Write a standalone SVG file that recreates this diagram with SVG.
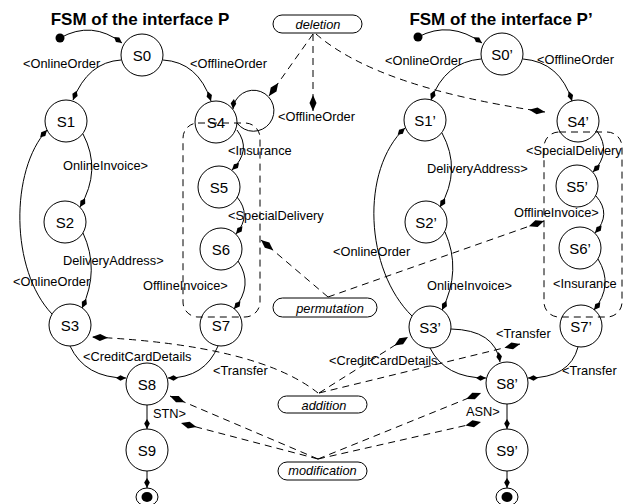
<svg xmlns="http://www.w3.org/2000/svg" width="624" height="504" viewBox="0 0 624 504">
<defs>
<marker id="ah" viewBox="0 -4 10 8" refX="10" refY="0" markerWidth="10" markerHeight="8" orient="auto" markerUnits="userSpaceOnUse"><path d="M0,0 L4.5,-2.8 L10,0 L4.5,2.8 z" fill="#000" stroke="none"/></marker>
<marker id="kite" viewBox="0 -4 16 8" refX="16" refY="0" markerWidth="16" markerHeight="8" orient="auto" markerUnits="userSpaceOnUse"><path d="M0,0 L8,-3.5 L16,0 L8,3.5 z" fill="#000" stroke="none"/></marker>
</defs>
<style>
text{font-family:"Liberation Sans",Arial,Helvetica,sans-serif;fill:#000}
.t{font-size:12.8px}
.s{font-size:15px;text-anchor:middle}
.title{font-size:17px;font-weight:bold;text-anchor:middle}
.bx{font-size:12.8px;font-style:italic;text-anchor:middle}
.st{fill:none;stroke:#000;stroke-width:1}
.tr{fill:none;stroke:#000;stroke-width:1;marker-end:url(#ah)}
.dl{fill:none;stroke:#000;stroke-width:1;stroke-dasharray:7 5;marker-end:url(#kite)}
.pill{fill:#fff;stroke:#000;stroke-width:1}
.grp{fill:none;stroke:#000;stroke-width:1;stroke-dasharray:7 5}
</style>
<rect width="624" height="504" fill="#fff"/>
<text class="title" x="140" y="25">FSM of the interface P</text>
<text class="title" x="501" y="25">FSM of the interface P’</text>

<g id="groups">
<rect class="grp" x="183" y="123" width="77" height="194" rx="15"/>
<rect class="grp" x="544" y="132" width="78" height="185" rx="15"/>
</g>

<g id="connectors">
<!-- left FSM -->
<path class="tr" d="M60,38 Q92,20 122,43"/>
<path class="tr" d="M121,60 Q88,62 73,100"/>
<text class="t" x="23" y="68">&lt;OnlineOrder</text>
<path class="tr" d="M163,60 Q198,62 211,101"/>
<text class="t" x="190" y="68">&lt;OfflineOrder</text>
<path class="tr" d="M237,123 A20.5,20.5 0 1 0 233,109"/>
<path class="tr" d="M237,130 Q252,150 232,170"/>
<text class="t" x="228" y="154.5">&lt;Insurance</text>
<path class="tr" d="M237,197 Q252,215 236,234"/>
<text class="t" x="228" y="219.5">&lt;SpecialDelivery</text>
<path class="tr" d="M238,261 Q254,285 234,309"/>
<text class="t" x="143" y="289.5">OfflineInvoice&gt;</text>
<path class="tr" d="M83,134 Q102,170 80,207"/>
<text class="t" x="63" y="169.5">OnlineInvoice&gt;</text>
<path class="tr" d="M83,233 Q100,270 82,308"/>
<text class="t" x="63" y="264.5">DeliveryAddress&gt;</text>
<path class="tr" d="M52,314 C10,270 10,170 47,130"/>
<text class="t" x="13" y="286">&lt;OnlineOrder</text>
<path class="tr" d="M70,346 Q85,378 126,378"/>
<text class="t" x="83" y="361">&lt;CreditCardDetails</text>
<path class="tr" d="M218,346 Q205,378 168,378"/>
<text class="t" x="213" y="374.5">&lt;Transfer</text>
<path class="tr" d="M147,405 L147,429"/>
<text class="t" x="153" y="418">STN&gt;</text>
<path class="tr" d="M147,471 L147,488"/>
<!-- right FSM -->
<path class="tr" d="M418,37 Q450,20 482,43"/>
<path class="tr" d="M481,59 Q445,62 431,100"/>
<text class="t" x="385" y="64.5">&lt;OnlineOrder</text>
<path class="tr" d="M523,59 Q560,62 572,101"/>
<text class="t" x="537" y="64">&lt;OfflineOrder</text>
<path class="tr" d="M442,133 Q462,170 440,207"/>
<text class="t" x="427" y="173">DeliveryAddress&gt;</text>
<path class="tr" d="M445,232 Q462,270 442,310"/>
<text class="t" x="427" y="289.5">OnlineInvoice&gt;</text>
<path class="tr" d="M412,316 C365,270 360,170 405,128"/>
<text class="t" x="333" y="256">&lt;OnlineOrder</text>
<path class="tr" d="M597,131 Q612,152 593,172"/>
<text class="t" x="526" y="154.5">&lt;SpecialDelivery</text>
<path class="tr" d="M596,196 Q612,214 595,233"/>
<text class="t" x="514" y="217">OfflineInvoice&gt;</text>
<path class="tr" d="M598,259 Q614,285 594,310"/>
<text class="t" x="553" y="288">&lt;Insurance</text>
<path class="tr" d="M451,329 Q495,330 500,362"/>
<text class="t" x="496" y="338">&lt;Transfer</text>
<path class="tr" d="M430,348 Q445,378 486,378"/>
<text class="t" x="329" y="364.5">&lt;CreditCardDetails</text>
<path class="tr" d="M578,347 Q570,378 528,378"/>
<text class="t" x="562" y="374.5">&lt;Transfer</text>
<path class="tr" d="M507,404 L507,429"/>
<text class="t" x="466" y="416">ASN&gt;</text>
<path class="tr" d="M507,471 L507,488"/>
<!-- change annotations -->
<path class="dl" d="M313,34 L269,96"/>
<path class="dl" d="M313,34 L313,111"/>
<path class="dl" d="M316,34 Q378,88 545,112"/>
<text class="t" x="278" y="121">&lt;OfflineOrder</text>
<path class="dl" d="M328,297 L261,240"/>
<path class="dl" d="M328,297 L544,221"/>
<path class="dl" d="M318,393 Q258,345 92,337"/>
<path class="dl" d="M319,393 L408,337"/>
<path class="dl" d="M319,393 L520,344"/>
<path class="dl" d="M318,459 L170,396"/>
<path class="dl" d="M318,459 L181,423"/>
<path class="dl" d="M318,459 L481,393"/>
<path class="dl" d="M318,459 L481,422"/>
</g>

<g id="deletion"><rect class="pill" x="273" y="15" width="89" height="18" rx="9"/><text class="bx" x="318" y="28.5">deletion</text></g>
<g id="permutation"><rect class="pill" x="273" y="298" width="104" height="19" rx="9.5"/><text class="bx" x="330" y="312.5">permutation</text></g>
<g id="addition"><rect class="pill" x="278" y="396" width="89" height="17" rx="8.5"/><text class="bx" x="324" y="409.5">addition</text></g>
<g id="modification"><rect class="pill" x="278" y="462" width="89" height="18" rx="9"/><text class="bx" x="322.5" y="475">modification</text></g>

<g id="init"><circle cx="60" cy="38" r="4.5" fill="#000"/></g>
<g id="S0"><circle class="st" cx="142" cy="55" r="21"/><text class="s" x="142" y="60.5">S0</text></g>
<g id="S1"><circle class="st" cx="66" cy="121" r="21"/><text class="s" x="66" y="126.5">S1</text></g>
<g id="S4"><circle class="st" cx="216" cy="122" r="21"/><text class="s" x="216" y="127.5">S4</text></g>
<g id="S2"><circle class="st" cx="65" cy="222" r="21"/><text class="s" x="65" y="227.5">S2</text></g>
<g id="S5"><circle class="st" cx="219" cy="187" r="21"/><text class="s" x="219" y="192.5">S5</text></g>
<g id="S6"><circle class="st" cx="221" cy="249" r="21"/><text class="s" x="221" y="254.5">S6</text></g>
<g id="S3"><circle class="st" cx="70" cy="325" r="21"/><text class="s" x="70" y="330.5">S3</text></g>
<g id="S7"><circle class="st" cx="221" cy="325" r="21"/><text class="s" x="221" y="330.5">S7</text></g>
<g id="S8"><circle class="st" cx="147" cy="384" r="21"/><text class="s" x="147" y="389.5">S8</text></g>
<g id="S9"><circle class="st" cx="147" cy="450" r="21"/><text class="s" x="147" y="455.5">S9</text></g>
<g id="final"><ellipse class="st" cx="147" cy="497" rx="11" ry="9"/><ellipse cx="147" cy="497" rx="5.5" ry="5" fill="#000"/></g>

<g id="init2"><circle cx="418" cy="37" r="4.5" fill="#000"/></g>
<g id="S0p"><circle class="st" cx="502" cy="54" r="21"/><text class="s" x="502" y="59.5">S0’</text></g>
<g id="S1p"><circle class="st" cx="425" cy="120" r="21"/><text class="s" x="425" y="125.5">S1’</text></g>
<g id="S4p"><circle class="st" cx="578" cy="121" r="21"/><text class="s" x="578" y="126.5">S4’</text></g>
<g id="S2p"><circle class="st" cx="426" cy="222" r="21"/><text class="s" x="426" y="227.5">S2’</text></g>
<g id="S5p"><circle class="st" cx="577" cy="186" r="21"/><text class="s" x="577" y="191.5">S5’</text></g>
<g id="S6p"><circle class="st" cx="580" cy="248" r="21"/><text class="s" x="580" y="253.5">S6’</text></g>
<g id="S3p"><circle class="st" cx="430" cy="327" r="21"/><text class="s" x="430" y="332.5">S3’</text></g>
<g id="S7p"><circle class="st" cx="581" cy="326" r="21"/><text class="s" x="581" y="331.5">S7’</text></g>
<g id="S8p"><circle class="st" cx="507" cy="383" r="21"/><text class="s" x="507" y="388.5">S8’</text></g>
<g id="S9p"><circle class="st" cx="507" cy="450" r="21"/><text class="s" x="507" y="455.5">S9’</text></g>
<g id="final2"><ellipse class="st" cx="507" cy="497" rx="11" ry="9"/><ellipse cx="507" cy="497" rx="5.5" ry="5" fill="#000"/></g>
</svg>
